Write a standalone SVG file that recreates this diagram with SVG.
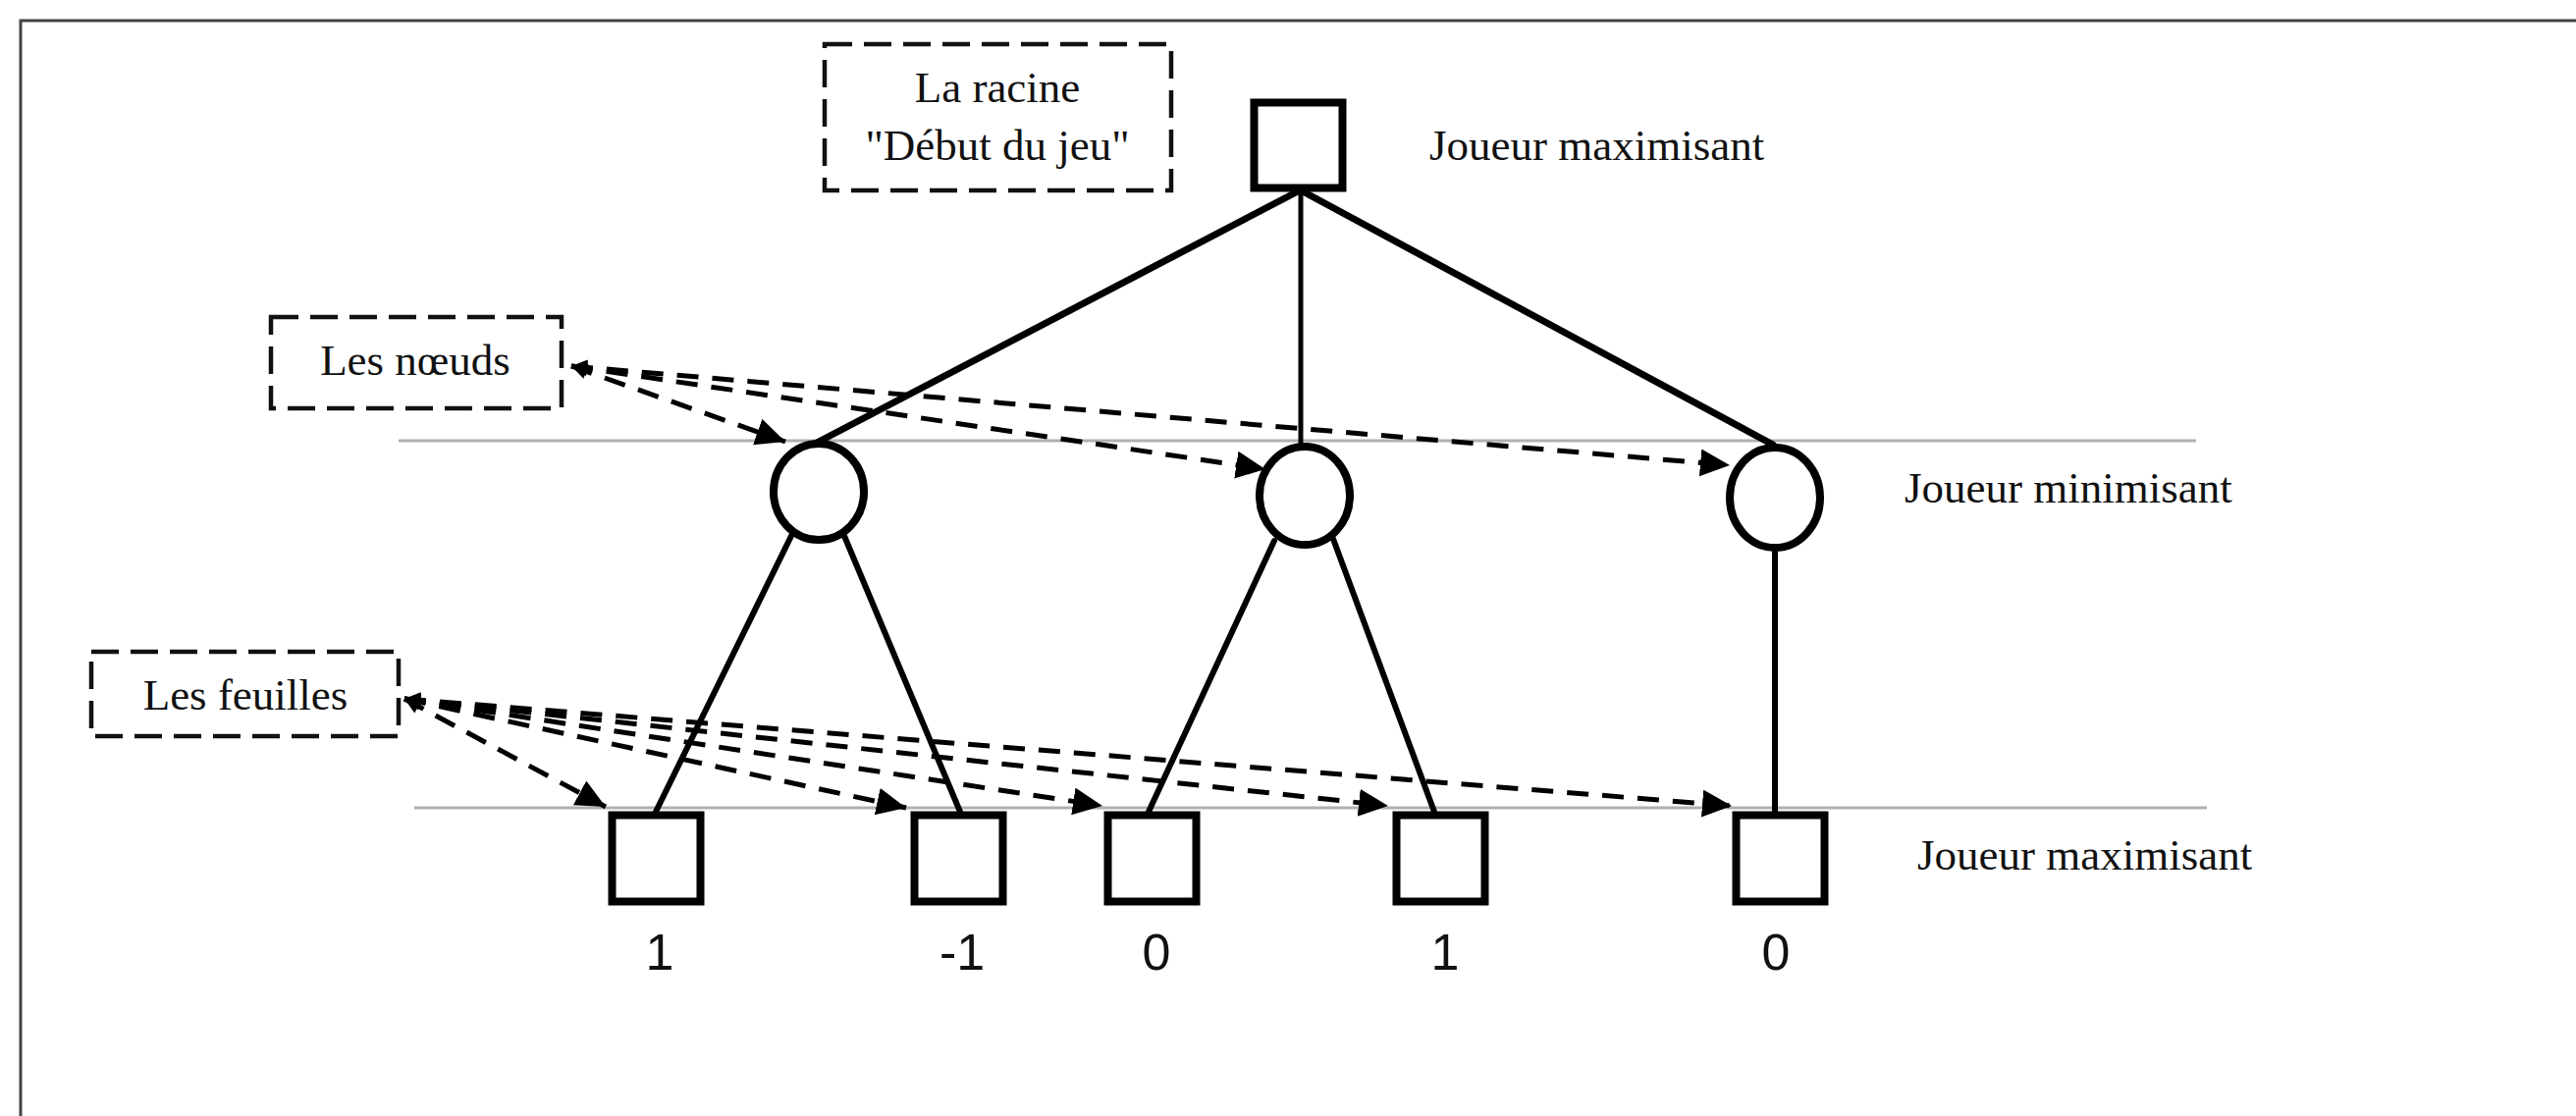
<svg xmlns="http://www.w3.org/2000/svg" width="2624" height="1137" viewBox="0 0 2624 1137">
<style>
.frame{stroke:#444;stroke-width:3;fill:none}
.level{stroke:#b0b0b0;stroke-width:3}
.node{fill:#fff;stroke:#000;stroke-width:8}
.edge{stroke:#000;stroke-width:7;stroke-linecap:round}
.sub{stroke-width:6}
.note{fill:#fff;stroke:#111;stroke-width:4.5;stroke-dasharray:28 12}
.ptr{stroke:#000;stroke-width:5;stroke-dasharray:22 14;fill:none;marker-end:url(#ah);marker-start:url(#sh)}
.lbl{font-family:"Liberation Serif","Times New Roman",serif;font-size:45px;fill:#111}
.val{font-family:"Liberation Sans",Arial,sans-serif;font-size:52px;fill:#111;text-anchor:middle}
</style>
<defs>
<marker id="ah" markerUnits="userSpaceOnUse" markerWidth="32" markerHeight="30" refX="30" refY="14" orient="auto">
<path d="M0,0 L30,14 L0,28 z" fill="#000"/>
</marker>
<marker id="sh" markerUnits="userSpaceOnUse" markerWidth="18" markerHeight="18" refX="0" refY="8" orient="auto">
<path d="M0,8 L16,0 L16,16 z" fill="#000"/>
</marker>
</defs>
<rect width="2624" height="1137" fill="#fff"/>
<path class="frame" d="M21,1137 V21 H2624"/>
<g id="levels">
<line class="level" x1="406" y1="449" x2="2237" y2="449"/>
<line class="level" x1="422" y1="823" x2="2248" y2="823"/>
</g>
<g id="connectors">
<line class="edge" x1="1322" y1="195" x2="832" y2="451"/>
<line class="edge" x1="1325" y1="195" x2="1325" y2="452" style="stroke-width:5"/>
<line class="edge" x1="1327" y1="195" x2="1806" y2="453"/>
<line class="edge sub" x1="806" y1="546" x2="668" y2="827"/>
<line class="edge sub" x1="860" y1="546" x2="978" y2="827"/>
<line class="edge sub" x1="1298" y1="551" x2="1170" y2="827"/>
<line class="edge sub" x1="1358" y1="549" x2="1461" y2="827"/>
<line class="edge sub" x1="1808" y1="557" x2="1808" y2="827"/>
<path class="ptr" d="M582,373 L800,450"/>
<path class="ptr" d="M582,373 L1289,478"/>
<path class="ptr" d="M582,373 L1762,474"/>
<path class="ptr" d="M412,712 L617,822"/>
<path class="ptr" d="M412,712 L923,823"/>
<path class="ptr" d="M412,712 L1123,821"/>
<path class="ptr" d="M412,712 L1414,821"/>
<path class="ptr" d="M412,712 L1764,821"/>
</g>
<g id="root">
<rect class="node" x="1277.5" y="104.5" width="90" height="87"/>
</g>
<g id="root-note">
<rect class="note" x="840" y="45" width="353" height="149"/>
<text class="lbl" x="1016" y="104" text-anchor="middle">La racine</text>
<text class="lbl" x="1016" y="163" text-anchor="middle">"Début du jeu"</text>
</g>
<g id="label-max-top"><text class="lbl" x="1456" y="163">Joueur maximisant</text></g>
<g id="label-min"><text class="lbl" x="1940" y="512">Joueur minimisant</text></g>
<g id="label-max-bottom"><text class="lbl" x="1953" y="886">Joueur maximisant</text></g>
<g id="nodes-note">
<rect class="note" x="276" y="323" width="296" height="93"/>
<text class="lbl" x="423" y="382" text-anchor="middle">Les nœuds</text>
</g>
<g id="leaves-note">
<rect class="note" x="93" y="664" width="313" height="86"/>
<text class="lbl" x="250" y="723" text-anchor="middle">Les feuilles</text>
</g>
<g id="min1"><ellipse class="node" cx="834" cy="501" rx="46" ry="49"/></g>
<g id="min2"><ellipse class="node" cx="1329" cy="505" rx="46" ry="50"/></g>
<g id="min3"><ellipse class="node" cx="1808" cy="507" rx="46" ry="51"/></g>
<g id="leaf1"><rect class="node" x="623.5" y="830.5" width="90" height="88"/><text class="val" x="672" y="988">1</text></g>
<g id="leaf2"><rect class="node" x="931.5" y="830.5" width="90" height="88"/><text class="val" x="980" y="988">-1</text></g>
<g id="leaf3"><rect class="node" x="1128.5" y="830.5" width="90" height="88"/><text class="val" x="1178" y="988">0</text></g>
<g id="leaf4"><rect class="node" x="1422.5" y="830.5" width="90" height="88"/><text class="val" x="1472" y="988">1</text></g>
<g id="leaf5"><rect class="node" x="1768.5" y="830.5" width="90" height="88"/><text class="val" x="1809" y="988">0</text></g>
</svg>
